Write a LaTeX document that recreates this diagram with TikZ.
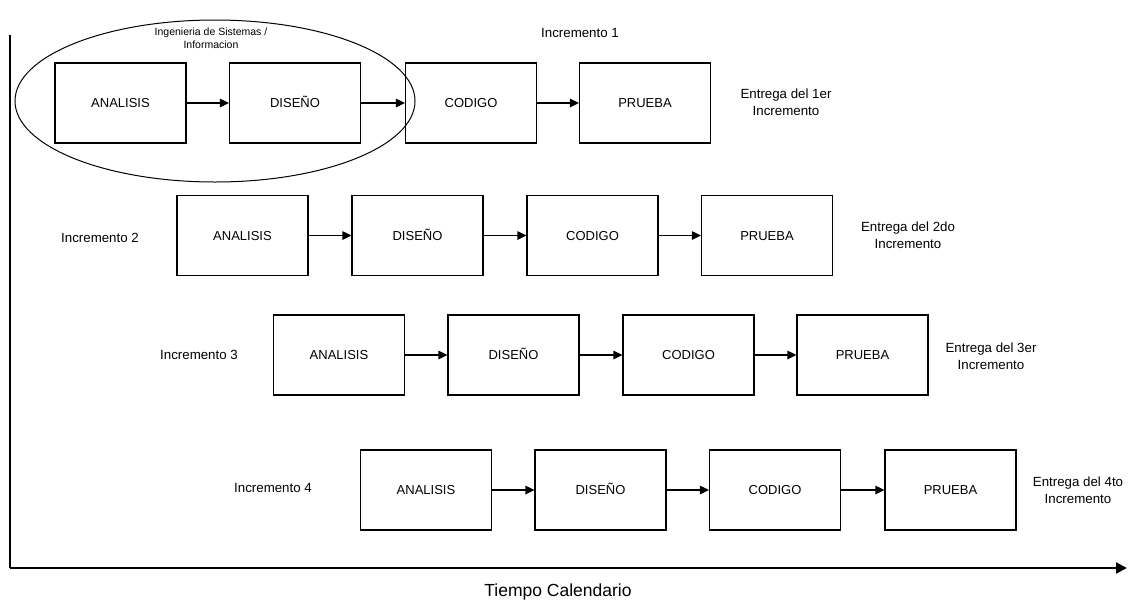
\documentclass[tikz,border=0pt]{standalone}
\usepackage{fontspec}
\setmainfont{Liberation Sans}
\usetikzlibrary{arrows.meta}
\begin{document}
\begin{tikzpicture}[x=1pt,y=-1pt,
  phase/.style={draw=black,line width=1.2pt,minimum width=131pt,minimum height=80pt,
    inner sep=0pt,text height=9.4pt,text depth=0pt,font=\fontsize{13}{15}\selectfont},
  flow/.style={line width=1.2pt,-{Triangle[length=9pt,width=8.5pt]}},
  lbl/.style={font=\fontsize{13.3}{16.5}\selectfont,align=center,inner sep=0pt},
  axis/.style={line width=2.3pt}]
\useasboundingbox (0,0) rectangle (1132,606);

% time axes
\coordinate (top) at (10,35);
\coordinate (origin) at (10,568);
\coordinate (tend) at (1127,568);
\draw[axis] (top) -- (origin);
\draw[axis,-{Triangle[length=11pt,width=11pt]}] (origin) -- (tend);
\node[font=\fontsize{17.5}{20}\selectfont,inner sep=0pt] (tiempo) at (558,592) {Tiempo Calendario};

% systems engineering envelope
\draw[line width=1pt] (215,101) ellipse [x radius=200, y radius=81];
\node[font=\fontsize{10.5}{13}\selectfont,align=center,inner sep=0pt] (ingsis) at (211,38.5)
  {Ingenieria de Sistemas /\\Informacion};

% increment 1
\node[phase] (a1) at (120.5,103) {ANALISIS};
\node[phase] (d1) at (295,103) {DISEÑO};
\node[phase] (c1) at (471,103) {CODIGO};
\node[phase] (p1) at (645,103) {PRUEBA};
\node[lbl] (i1) at (580,33) {Incremento 1};
\node[lbl] (e1) at (786,102) {Entrega del 1er\\Incremento};

% increment 2
\node[phase] (a2) at (242.5,235.5) {ANALISIS};
\node[phase] (d2) at (417.5,235.5) {DISEÑO};
\node[phase] (c2) at (592.5,235.5) {CODIGO};
\node[phase] (p2) at (767,235.5) {PRUEBA};
\node[lbl] (i2) at (100,238) {Incremento 2};
\node[lbl] (e2) at (908,235) {Entrega del 2do\\Incremento};

% increment 3
\node[phase] (a3) at (339,355) {ANALISIS};
\node[phase] (d3) at (513.5,355) {DISEÑO};
\node[phase] (c3) at (688.5,355) {CODIGO};
\node[phase] (p3) at (862.5,355) {PRUEBA};
\node[lbl] (i3) at (199,355) {Incremento 3};
\node[lbl] (e3) at (991,356) {Entrega del 3er\\Incremento};

% increment 4
\node[phase] (a4) at (426,490) {ANALISIS};
\node[phase] (d4) at (600.5,490) {DISEÑO};
\node[phase] (c4) at (775,490) {CODIGO};
\node[phase] (p4) at (950.5,490) {PRUEBA};
\node[lbl] (i4) at (273,488) {Incremento 4};
\node[lbl] (e4) at (1078,490) {Entrega del 4to\\Incremento};

% phase transitions
\foreach \r in {1,2,3,4}{
  \draw[flow] (a\r) -- (d\r);
  \draw[flow] (d\r) -- (c\r);
  \draw[flow] (c\r) -- (p\r);
}
\end{tikzpicture}
\end{document}
